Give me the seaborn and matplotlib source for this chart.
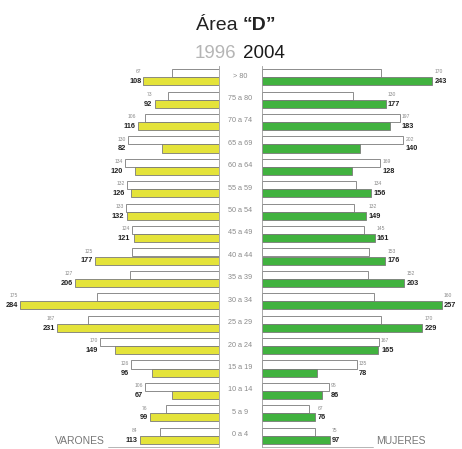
"""Population pyramid, Area "D": 1996 vs 2004 by sex and age group."""

import matplotlib.pyplot as plt
import matplotlib.transforms as mtransforms
import pandas as pd
import seaborn as sns

AGES = ["> 80", "75 a 80", "70 a 74", "65 a 69", "60 a 64", "55 a 59",
        "50 a 54", "45 a 49", "40 a 44", "35 a 39", "30 a 34", "25 a 29",
        "20 a 24", "15 a 19", "10 a 14", "5 a 9", "0 a 4"]

MALE_1996 = [67, 73, 106, 130, 134, 132, 133, 124, 125, 127, 175, 187, 170, 126, 106, 76, 84]
MALE_2004 = [108, 92, 116, 82, 120, 126, 132, 121, 177, 206, 284, 231, 149, 96, 67, 99, 113]
FEMALE_1996 = [170, 130, 197, 202, 169, 134, 132, 145, 153, 152, 160, 170, 167, 135, 95, 67, 75]
FEMALE_2004 = [243, 177, 183, 140, 128, 156, 149, 161, 176, 203, 257, 229, 165, 78, 86, 76, 97]

YELLOW = "#e4e33a"
GREEN = "#41b23f"

W, H = 462, 449


def long_frame(v96, v04):
    rows = []
    for age, a, b in zip(AGES, v96, v04):
        rows.append({"age": age, "year": "1996", "value": a})
        rows.append({"age": age, "year": "2004", "value": b})
    return pd.DataFrame(rows)


def draw_side(ax, v96, v04, color, left):
    df = long_frame(v96, v04)
    sns.barplot(data=df, x="value", y="age", hue="year", order=AGES,
                hue_order=["1996", "2004"], orient="h",
                palette={"1996": "white", "2004": color}, saturation=1,
                width=0.72, edgecolor="#7a7a7a", linewidth=0.6,
                legend=False, ax=ax)
    for i, (a, b) in enumerate(zip(v96, v04)):
        x = max(a, b) + 3
        ha = "right" if left else "left"
        ax.text(x, i - 0.24, str(a), ha=ha, va="center", fontsize=3.6,
                color="#8a8a8a")
        ax.text(x, i + 0.2, str(b), ha=ha, va="center", fontsize=5.3,
                fontweight="bold", color="#222222")
    ax.set_ylim(len(AGES) - 0.5, -0.5)
    ax.set_xlabel("")
    ax.set_ylabel("")
    ax.set_xticks([])
    ax.set_yticks([])
    for s in ax.spines.values():
        s.set_visible(False)


sns.set_style("white")
plt.rcParams["font.family"] = ["Liberation Sans", "DejaVu Sans"]

fig = plt.figure(figsize=(W / 100, H / 100), dpi=100)

bottom = 1 - 447 / H
height = (447 - 66) / H
ax_l = fig.add_axes([0, bottom, 219 / W, height])
ax_r = fig.add_axes([262 / W, bottom, 200 / W, height])

draw_side(ax_l, MALE_1996, MALE_2004, YELLOW, left=True)
ax_l.set_xlim(219 / 0.7, 0)
ax_l.spines["right"].set_visible(True)
ax_l.spines["right"].set_color("#9a9a9a")
ax_l.spines["right"].set_linewidth(0.6)

draw_side(ax_r, FEMALE_1996, FEMALE_2004, GREEN, left=False)
ax_r.set_xlim(0, 200 / 0.7)
ax_r.spines["left"].set_visible(True)
ax_r.spines["left"].set_color("#9a9a9a")
ax_r.spines["left"].set_linewidth(0.6)

# age labels in the central gap
trans = mtransforms.blended_transform_factory(fig.transFigure, ax_r.transData)
for i, age in enumerate(AGES):
    ax_r.text(240.5 / W, i - 0.05, age, transform=trans, ha="center",
              va="center", fontsize=5.2, color="#8a8a8a", clip_on=False)

# thin base lines next to the sex labels
yb = 1 - 446.5 / H
fig.add_artist(plt.Line2D([108 / W, 219 / W], [yb, yb], color="#aaaaaa", lw=0.6))
fig.add_artist(plt.Line2D([262 / W, 373 / W], [yb, yb], color="#aaaaaa", lw=0.6))

# titles
fig.text(243 / W, 1 - 26 / H, "Área ", ha="right", va="center",
         fontsize=14, color="#222222")
fig.text(243 / W, 1 - 26 / H, "“D”", ha="left", va="center",
         fontsize=14, fontweight="bold", color="#222222")
fig.text(236 / W, 1 - 53 / H, "1996", ha="right", va="center",
         fontsize=13.5, color="#b5b5b5")
fig.text(243 / W, 1 - 53 / H, "2004", ha="left", va="center",
         fontsize=13.5, color="#1a1a1a")

fig.text(80 / W, 1 - 441 / H, "VARONES", ha="center", va="center",
         fontsize=7.5, color="#777777")
fig.text(401 / W, 1 - 441 / H, "MUJERES", ha="center", va="center",
         fontsize=7.5, color="#777777")

fig.savefig("out.png", dpi=100)
